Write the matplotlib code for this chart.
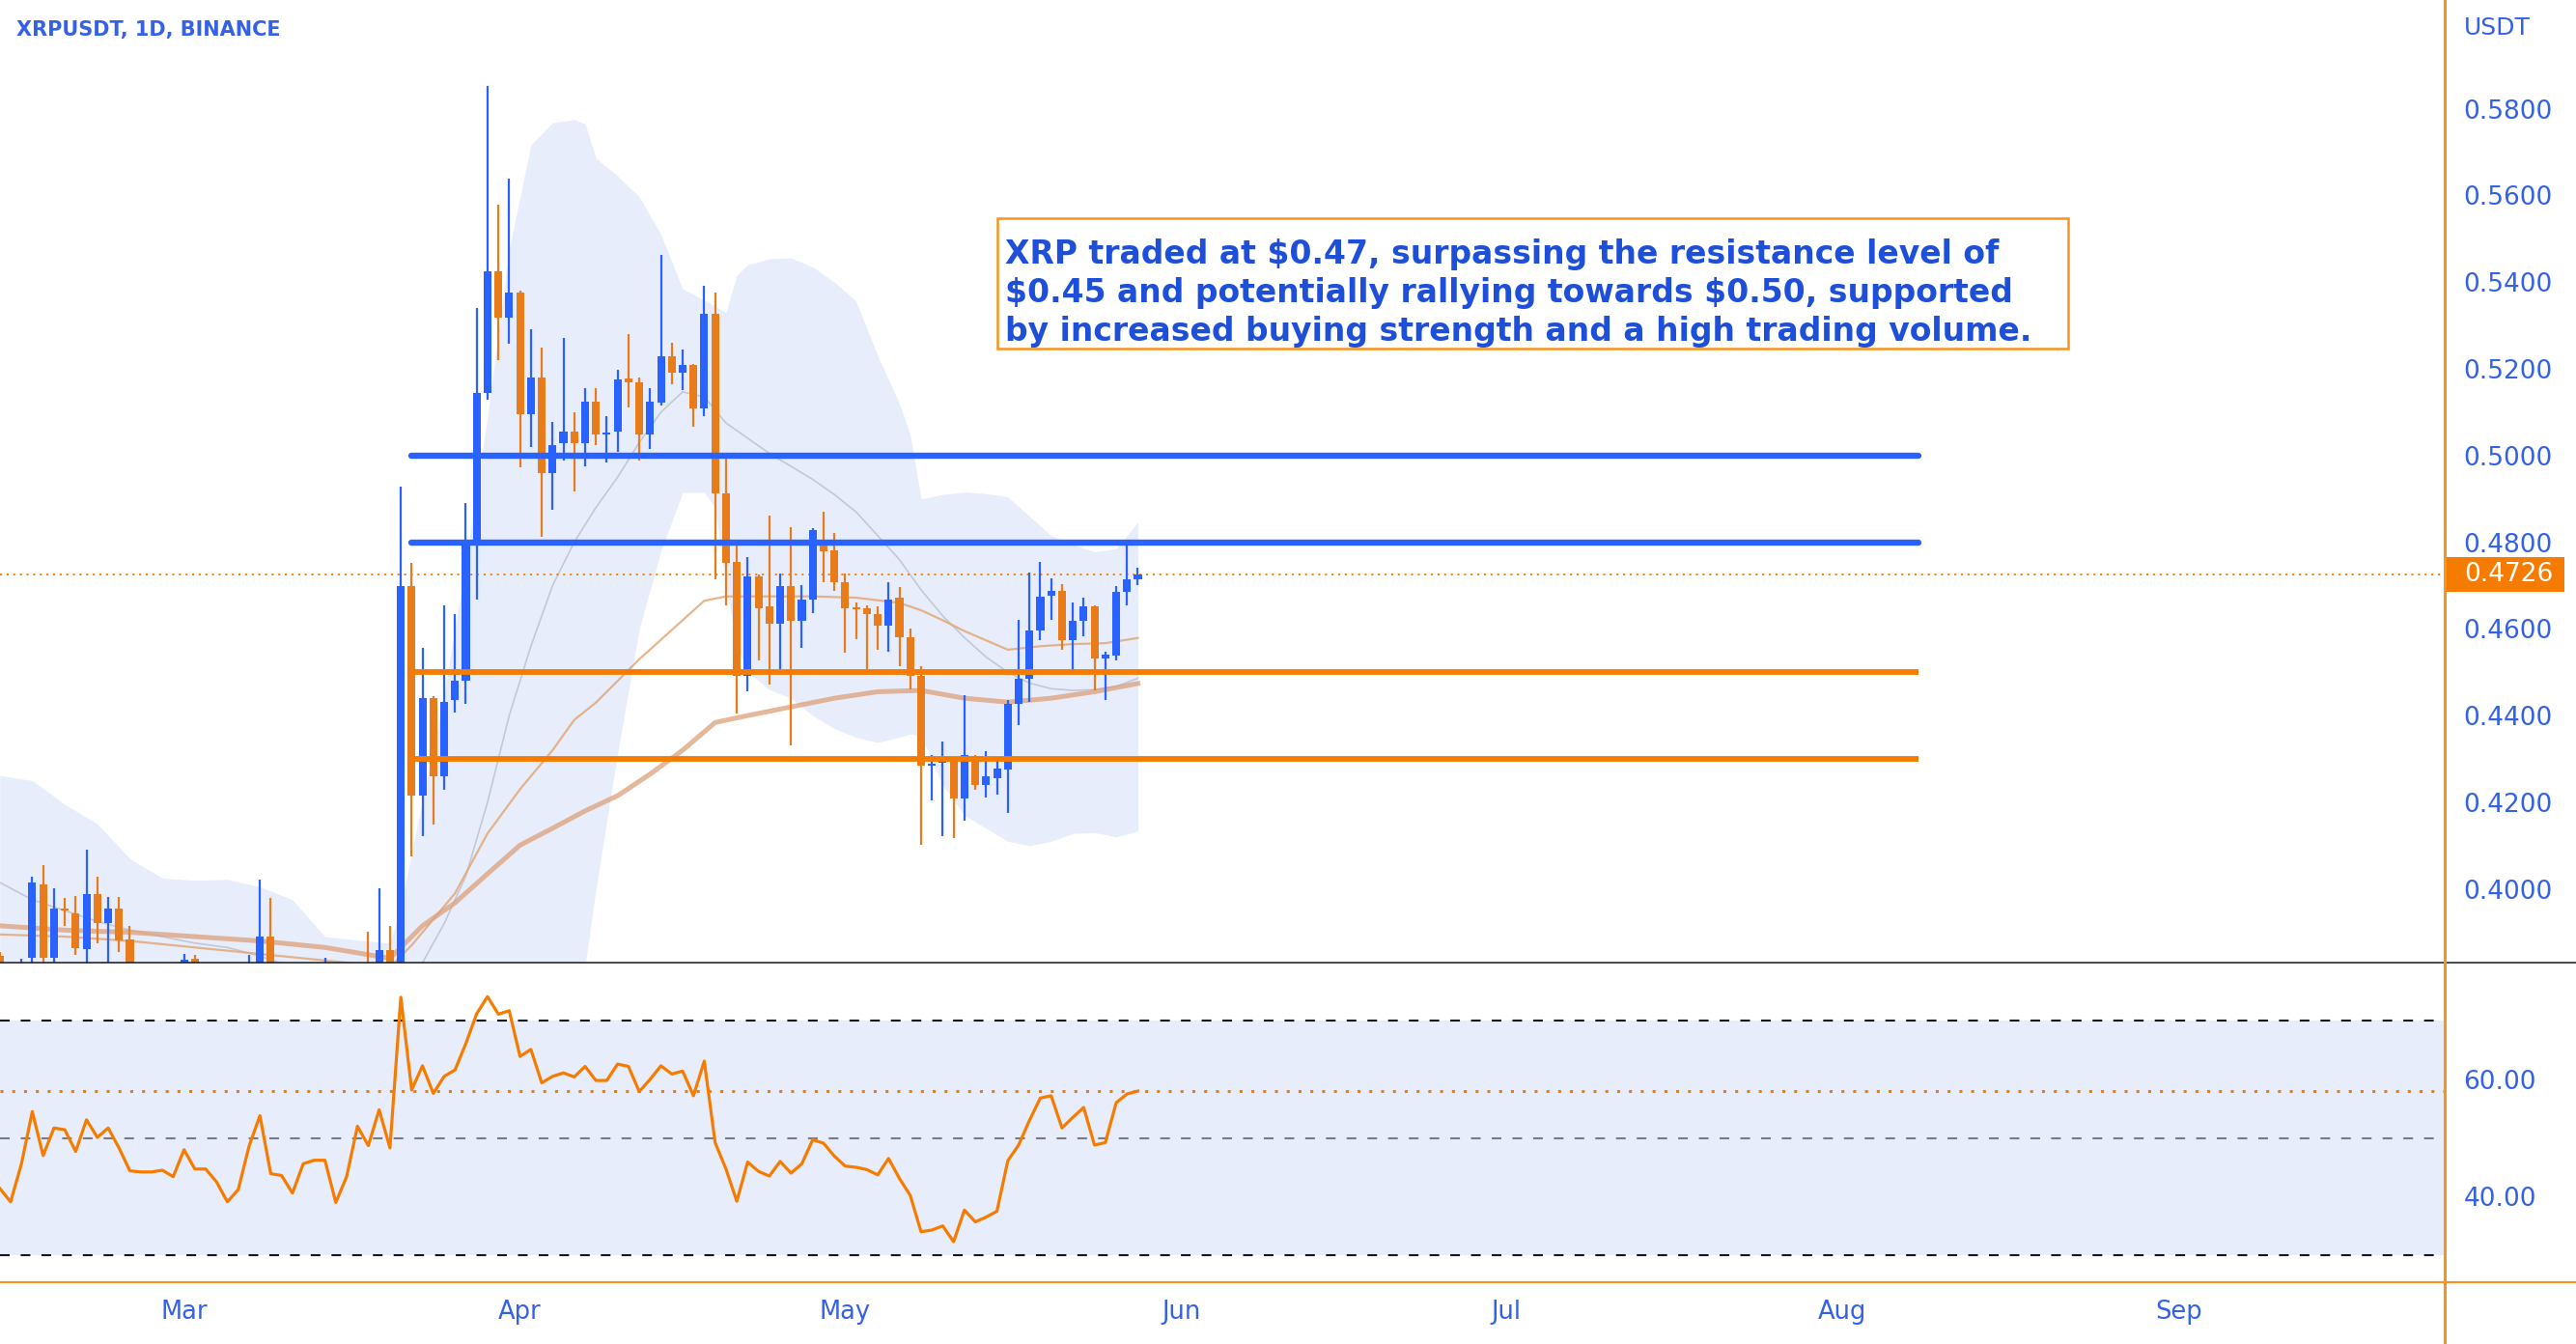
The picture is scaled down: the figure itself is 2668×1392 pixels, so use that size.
import numpy as np
import pandas as pd
import matplotlib
matplotlib.use("Agg")
import matplotlib.pyplot as plt
import matplotlib.dates as mdates
from matplotlib.patches import Rectangle
from matplotlib.lines import Line2D
from matplotlib import transforms, font_manager

# ---------- data (XRPUSDT daily, 2023) ----------
dates = pd.date_range("2023-02-12", "2023-05-28", freq="D")

open_ = [
    .3845, .3780, .3740, .3841, .4011, .3841, .3955, .3944, .3861, .3988, .3921, .3955, .3883, .3780, .3775, .3776, .3778,
    .3765, .3838, .3782, .3780, .3755, .3715, .3735, .3815, .3891, .3760, .3757, .3720, .3775, .3770, .3782, .3700,
    .3745, .3810, .3780, .3859, .3785, .4699, .4215, .4441, .4261, .4435, .4481, .4792, .5145, .5425, .5317,
    .5375, .5095, .5179, .4960, .5028, .5055, .5028, .5125, .5048, .5055, .5177, .5168, .5048, .5121, .5228,
    .5192, .5208, .5108, .5328, .4912, .4755, .4491, .4721, .4651, .4611, .4699, .4619, .4668, .4797, .4781,
    .4708, .4648, .4647, .4635, .4608, .4672, .4581, .4491, .4285, .4291, .4301, .4208, .4304, .4241, .4255,
    .4275, .4428, .4484, .4597, .4677, .4688, .4575, .4619, .4651, .4531, .4539, .4685, .4715,
]
high = [
    .3855, .3800, .3840, .4028, .4055, .4001, .3979, .3983, .4091, .4028, .3981, .3981, .3915, .3805, .3810, .3815, .3800,
    .3850, .3848, .3795, .3790, .3770, .3760, .3848, .4021, .3979, .3790, .3770, .3790, .3815, .3841, .3800,
    .3770, .3820, .3901, .4001, .3915, .4928, .4752, .4557, .4445, .4655, .4635, .4891, .5341, .5852, .5579, .5639,
    .5380, .5291, .5248, .5077, .5271, .5099, .5155, .5155, .5091, .5197, .5281, .5179, .5155, .5464, .5261,
    .5244, .5212, .5392, .5375, .4995, .4795, .4765, .4725, .4861, .4728, .4835, .4701, .4832, .4871, .4821,
    .4728, .4661, .4655, .4651, .4708, .4697, .4601, .4515, .4308, .4341, .4305, .4448, .4308, .4317, .4301,
    .4435, .4621, .4731, .4755, .4717, .4704, .4661, .4672, .4655, .4548, .4699, .4795, .4741,
]
low = [
    .3740, .3680, .3720, .3825, .3820, .3815, .3915, .3848, .3815, .3875, .3810, .3855, .3750, .3690, .3700, .3720, .3710,
    .3740, .3730, .3620, .3700, .3680, .3690, .3720, .3790, .3700, .3620, .3600, .3690, .3700, .3730, .3660,
    .3680, .3730, .3760, .3765, .3750, .3770, .4075, .4121, .4148, .4228, .4408, .4428, .4668, .5128, .5219, .5259,
    .4973, .5019, .4813, .4875, .4988, .4917, .4975, .5024, .4984, .5008, .5112, .4988, .5015, .5115, .5164,
    .5152, .5067, .5091, .4715, .4655, .4405, .4457, .4528, .4472, .4508, .4331, .4557, .4637, .4708, .4688,
    .4544, .4577, .4508, .4552, .4548, .4515, .4461, .4101, .4205, .4121, .4117, .4157, .4228, .4211, .4217,
    .4175, .4379, .4432, .4575, .4621, .4552, .4501, .4584, .4459, .4435, .4528, .4655, .4701,
]
close = [
    .3780, .3740, .3810, .4015, .3841, .3955, .3950, .3864, .3988, .3921, .3955, .3881, .3780, .3775, .3776, .3778, .3765,
    .3837, .3780, .3780, .3755, .3715, .3735, .3815, .3891, .3760, .3757, .3720, .3775, .3782, .3782, .3700,
    .3745, .3810, .3780, .3859, .3785, .4699, .4215, .4441, .4261, .4432, .4481, .4792, .5145, .5425, .5317, .5375,
    .5095, .5181, .4960, .5025, .5055, .5028, .5125, .5048, .5051, .5175, .5168, .5048, .5125, .5228, .5192,
    .5208, .5108, .5328, .4912, .4752, .4491, .4721, .4648, .4611, .4699, .4619, .4668, .4828, .4779, .4708,
    .4648, .4645, .4635, .4608, .4668, .4581, .4491, .4285, .4289, .4301, .4208, .4308, .4241, .4259, .4277,
    .4428, .4484, .4597, .4675, .4688, .4575, .4619, .4651, .4531, .4541, .4685, .4715, .4726,
]
rsi = [
    41.4, 39.1, 45.6, 54.5, 47.0, 51.7, 51.4, 47.7, 53.1, 50.1, 51.7, 48.3, 44.4, 44.2, 44.2, 44.5, 43.4,
    48.0, 44.7, 44.7, 42.5, 39.1, 41.2, 48.6, 53.8, 43.9, 43.6, 40.6, 45.6, 46.2, 46.2, 39.0, 43.4,
    52.0, 48.7, 54.8, 48.3, 74.0, 58.2, 62.3, 57.6, 60.5, 61.6, 66.1, 71.2, 74.1, 71.1, 71.7,
    63.9, 65.1, 59.4, 60.5, 61.1, 60.4, 62.2, 59.8, 59.8, 62.6, 62.2, 57.9, 60.0, 62.3, 60.9, 61.4,
    57.2, 63.1, 49.2, 44.7, 39.2, 45.9, 44.3, 43.5, 46.0, 44.0, 45.6, 49.7, 49.1, 46.9,
    45.2, 45.0, 44.6, 43.7, 46.5, 43.1, 40.2, 34.0, 34.3, 35.0, 32.3, 37.7, 35.7, 36.5, 37.5,
    46.1, 48.8, 53.0, 56.8, 57.2, 51.7, 53.5, 55.2, 48.8, 49.2, 56.0, 57.5, 58.0,
]

# Bollinger bands (read at these dates)
band_dates = [
    "2023-02-12", "2023-02-15", "2023-02-18", "2023-02-21", "2023-02-24", "2023-02-27", "2023-03-02", "2023-03-05",
    "2023-03-08", "2023-03-11", "2023-03-14", "2023-03-17", "2023-03-20", "2023-03-21", "2023-03-23", "2023-03-25",
    "2023-03-27", "2023-03-29", "2023-03-31", "2023-04-02", "2023-04-04", "2023-04-06", "2023-04-07", "2023-04-08",
    "2023-04-10", "2023-04-12", "2023-04-14", "2023-04-16", "2023-04-18", "2023-04-19", "2023-04-20", "2023-04-21",
    "2023-04-22", "2023-04-24", "2023-04-26", "2023-04-28", "2023-04-30", "2023-05-02", "2023-05-04", "2023-05-06",
    "2023-05-07", "2023-05-08", "2023-05-10", "2023-05-12", "2023-05-14", "2023-05-16", "2023-05-18", "2023-05-20",
    "2023-05-22", "2023-05-24", "2023-05-26", "2023-05-28",
]
bb_upper = [
    .4262, .4250, .4195, .4150, .4070, .4025, .4020, .4022, .4005, .3975, .3890, .3882, .3875, .3960, .4206, .4450,
    .4754, .5090, .5476, .5717, .5768, .5775, .5765, .5686, .5645, .5597, .5510, .5385, .5358, .5345, .5330, .5416,
    .5440, .5454, .5456, .5435, .5400, .5356, .5230, .5120, .5048, .4900, .4910, .4916, .4912, .4905, .4860, .4815,
    .4795, .4778, .4785, .4846,
]
bb_lower = [
    .3640, .3650, .3660, .3680, .3710, .3730, .3735, .3720, .3700, .3680, .3660, .3650, .3640, .3560, .3450, .3380,
    .3300, .3280, .3300, .3350, .3450, .3650, .3823, .4000, .4313, .4600, .4780, .4915, .4915, .4880, .4700, .4560,
    .4500, .4460, .4440, .4400, .4370, .4350, .4338, .4350, .4358, .4353, .4240, .4170, .4140, .4110, .4100, .4110,
    .4128, .4130, .4120, .4134,
]
basis_dates = [
    "2023-02-12", "2023-02-15", "2023-02-18", "2023-02-21", "2023-02-24", "2023-02-27", "2023-03-02", "2023-03-05",
    "2023-03-08", "2023-03-11", "2023-03-14", "2023-03-17", "2023-03-20", "2023-03-23", "2023-03-25", "2023-03-27",
    "2023-03-29", "2023-03-31", "2023-04-02", "2023-04-04", "2023-04-06", "2023-04-08", "2023-04-10", "2023-04-12",
    "2023-04-14", "2023-04-16", "2023-04-18", "2023-04-20", "2023-04-22", "2023-04-24", "2023-04-26", "2023-04-28",
    "2023-04-30", "2023-05-02", "2023-05-04", "2023-05-06", "2023-05-08", "2023-05-10", "2023-05-12", "2023-05-14",
    "2023-05-16", "2023-05-18", "2023-05-20", "2023-05-22", "2023-05-24", "2023-05-26", "2023-05-28",
]
bb_basis = [
    .4015, .3975, .3950, .3925, .3905, .3890, .3875, .3865, .3845, .3820, .3800, .3780, .3770, .3830, .3920, .4030,
    .4200, .4400, .4560, .4700, .4800, .4880, .4950, .5030, .5100, .5147, .5135, .5075, .5040, .5005, .4975, .4945,
    .4910, .4870, .4815, .4760, .4690, .4630, .4580, .4535, .4500, .4475, .4462, .4458, .4460, .4467, .4486,
]
ma_fast_dates = [
    "2023-02-12", "2023-02-18", "2023-02-24", "2023-03-02", "2023-03-08", "2023-03-14", "2023-03-20", "2023-03-22",
    "2023-03-24", "2023-03-26", "2023-03-29", "2023-04-01", "2023-04-04", "2023-04-06", "2023-04-08", "2023-04-10",
    "2023-04-12", "2023-04-14", "2023-04-16", "2023-04-18", "2023-04-20", "2023-04-24", "2023-04-28", "2023-05-02",
    "2023-05-06", "2023-05-08", "2023-05-10", "2023-05-12", "2023-05-16", "2023-05-19", "2023-05-22", "2023-05-25",
    "2023-05-28",
]
ma_fast = [
    .3895, .3890, .3880, .3865, .3850, .3835, .3820, .3870, .3930, .3990, .4128, .4230, .4320, .4390, .4430, .4480,
    .4530, .4575, .4620, .4665, .4675, .4675, .4675, .4672, .4660, .4643, .4620, .4595, .4552, .4560, .4565, .4567,
    .4579,
]
ma_slow_dates = [
    "2023-02-12", "2023-02-18", "2023-02-24", "2023-03-02", "2023-03-08", "2023-03-14", "2023-03-20", "2023-03-23",
    "2023-03-26", "2023-03-29", "2023-04-01", "2023-04-04", "2023-04-07", "2023-04-10", "2023-04-13", "2023-04-16",
    "2023-04-19", "2023-04-22", "2023-04-26", "2023-04-30", "2023-05-04", "2023-05-08", "2023-05-12", "2023-05-16",
    "2023-05-20", "2023-05-24", "2023-05-28",
]
ma_slow = [
    .3915, .3905, .3900, .3890, .3880, .3865, .3840, .3915, .3968, .4035, .4101, .4140, .4180, .4215, .4265, .4320,
    .4384, .4400, .4420, .4440, .4455, .4458, .4440, .4431, .4440, .4455, .4474,
]

resistance = [0.50, 0.48]
support = [0.45, 0.43]
level_span = ["2023-03-22", "2023-08-08"]
last_price = 0.4726
price_ticks = [0.40, 0.42, 0.44, 0.46, 0.48, 0.50, 0.52, 0.54, 0.56, 0.58]
rsi_ticks = [40, 60]
note_lines = [
    "XRP traded at $0.47, surpassing the resistance level of",
    "$0.45 and potentially rallying towards $0.50, supported",
    "by increased buying strength and a high trading volume.",
]

# ---------- style ----------
BLUE = "#2962FF"
ORANGE = "#F57C00"
CANDLE_ORANGE = "#E97C1A"
AXIS_ORANGE = "#F7941D"
LABEL_BLUE = "#3461E6"
TEXT_BLUE = "#1E4FD8"
LAVENDER = "#E8EDFB"

_installed = {f.name for f in font_manager.fontManager.ttflist}
if "Liberation Sans Narrow" in _installed:
    TITLE_FONT, TITLE_SIZE = "Liberation Sans Narrow", 18
else:
    TITLE_FONT, TITLE_SIZE = "DejaVu Sans", 15

plt.rcParams.update({"font.family": ["DejaVu Sans"]})

W, H = 2668, 1392
fig = plt.figure(figsize=(W / 100, H / 100), dpi=100)
fig.patch.set_facecolor("white")

right_px = 2532
sep_px = 997
bottom_px = 1328
ax = fig.add_axes([0, 1 - sep_px / H, right_px / W, sep_px / H])
ax2 = fig.add_axes([0, 1 - bottom_px / H, right_px / W, (bottom_px - sep_px) / H], sharex=ax)

x = mdates.date2num(dates)
o, h, l, c = map(np.asarray, (open_, high, low, close))
up = c >= o
cols = np.where(up, BLUE, CANDLE_ORANGE)

# bollinger fill and moving averages
bx = mdates.date2num(pd.to_datetime(band_dates))
ax.fill_between(bx, bb_lower, bb_upper, color=LAVENDER, lw=0, zorder=0)
ax.plot(mdates.date2num(pd.to_datetime(basis_dates)), bb_basis, color="#B4B8C8", lw=1.2, alpha=0.7, zorder=1)
ax.plot(mdates.date2num(pd.to_datetime(ma_fast_dates)), ma_fast, color="#E3A878", lw=1.6, alpha=0.85, zorder=1)
ax.plot(mdates.date2num(pd.to_datetime(ma_slow_dates)), ma_slow, color="#DDA07A", lw=3.6, alpha=0.75, zorder=1)

# current price line
ax.axhline(last_price, color=ORANGE, lw=1.3, ls=(0, (1.2, 2.6)), zorder=1)

# candles
ax.vlines(x, l, h, colors=cols, lw=1.6, zorder=3)
body_h = np.maximum(np.abs(c - o), 0.0005)
ax.bar(x, body_h, bottom=np.minimum(o, c), width=0.72, color=cols, lw=0, zorder=4)

# horizontal levels
lx = mdates.date2num(pd.to_datetime(level_span))
for lv in resistance:
    ax.plot(lx, [lv, lv], color=BLUE, lw=4.6, solid_capstyle="round", zorder=5)
for lv in support:
    ax.plot(lx, [lv, lv], color=ORANGE, lw=4.2, solid_capstyle="butt", zorder=5)

x_left = mdates.date2num(pd.Timestamp("2023-02-12")) + 0.02
x_right = mdates.date2num(pd.Timestamp("2023-03-01")) + 208.57
ax.set_xlim(x_left, x_right)
ax.set_ylim(0.3830, 0.6051)

# price axis on the right
ax.yaxis.tick_right()
ax.set_yticks(price_ticks)
ax.set_yticklabels([f"{t:.4f}" for t in price_ticks])
ax.tick_params(axis="y", length=0, pad=14, labelsize=19, labelcolor=LABEL_BLUE)
ax.tick_params(axis="x", length=0, labelbottom=False)
for s in ax.spines.values():
    s.set_visible(False)

# RSI panel
ax2.axhspan(30, 70, color=LAVENDER, lw=0, zorder=0)
ax2.axhline(70, color="#131722", lw=1.5, ls=(0, (4.8, 5.5)), zorder=1)
ax2.axhline(30, color="#131722", lw=1.5, ls=(0, (4.8, 5.5)), zorder=1)
ax2.axhline(50, color="#787B86", lw=1.5, ls=(0, (4.8, 5.5)), zorder=1)
ax2.axhline(rsi[-1], color=ORANGE, lw=2.2, ls=(0, (1, 3)), zorder=2)
ax2.plot(x, rsi, color=ORANGE, lw=2.3, zorder=3)
ax2.set_ylim(25.4, 79.9)
ax2.yaxis.tick_right()
ax2.set_yticks(rsi_ticks)
ax2.set_yticklabels([f"{t:.2f}" for t in rsi_ticks])
ax2.tick_params(axis="y", length=0, pad=14, labelsize=19, labelcolor=LABEL_BLUE)
ax2.xaxis.set_major_locator(mdates.MonthLocator())
ax2.xaxis.set_major_formatter(mdates.DateFormatter("%b"))
ax2.tick_params(axis="x", length=0, pad=13, labelsize=18.5, labelcolor=LABEL_BLUE)
for s in ax2.spines.values():
    s.set_visible(False)

# frame lines
fig.add_artist(Line2D([0, 1], [1 - sep_px / H] * 2, transform=fig.transFigure, color="#131722", lw=1.1))
fig.add_artist(Line2D([0, 1], [1 - bottom_px / H] * 2, transform=fig.transFigure, color=AXIS_ORANGE, lw=1.6))
fig.add_artist(Line2D([right_px / W] * 2, [0, 1], transform=fig.transFigure, color=AXIS_ORANGE, lw=2.2))

# last price tag
tag = transforms.blended_transform_factory(fig.transFigure, ax.transData)
fig.add_artist(Rectangle((2534 / W, last_price - 0.0040), 122 / W, 0.0080,
                         transform=tag, facecolor=ORANGE, edgecolor="none", zorder=10))
fig.text(2552 / W, last_price, f"{last_price:.4f}", transform=tag, color="white",
         fontsize=19, va="center", ha="left", zorder=11)

fig.text(2552 / W, 1 - 29 / H, "USDT", color=LABEL_BLUE, fontsize=18, va="center", ha="left")
fig.text(17 / W, 1 - 31 / H, "XRPUSDT, 1D, BINANCE", color=LABEL_BLUE, fontsize=TITLE_SIZE,
         fontweight="bold", family=[TITLE_FONT, "DejaVu Sans"], va="center", ha="left")

# annotation box
fig.add_artist(Rectangle((1033 / W, 1 - 361 / H), (2142 - 1033) / W, (361 - 226) / H,
                         transform=fig.transFigure, facecolor="white", edgecolor=AXIS_ORANGE, lw=1.8, zorder=8))
for i, line in enumerate(note_lines):
    fig.text(1041 / W, 1 - (273 + 40 * i) / H, line, color=TEXT_BLUE, fontsize=23.8, fontweight="bold",
             family=["DejaVu Sans"], va="baseline", ha="left", zorder=9, parse_math=False)

fig.savefig("out.png", dpi=100, facecolor="white")
